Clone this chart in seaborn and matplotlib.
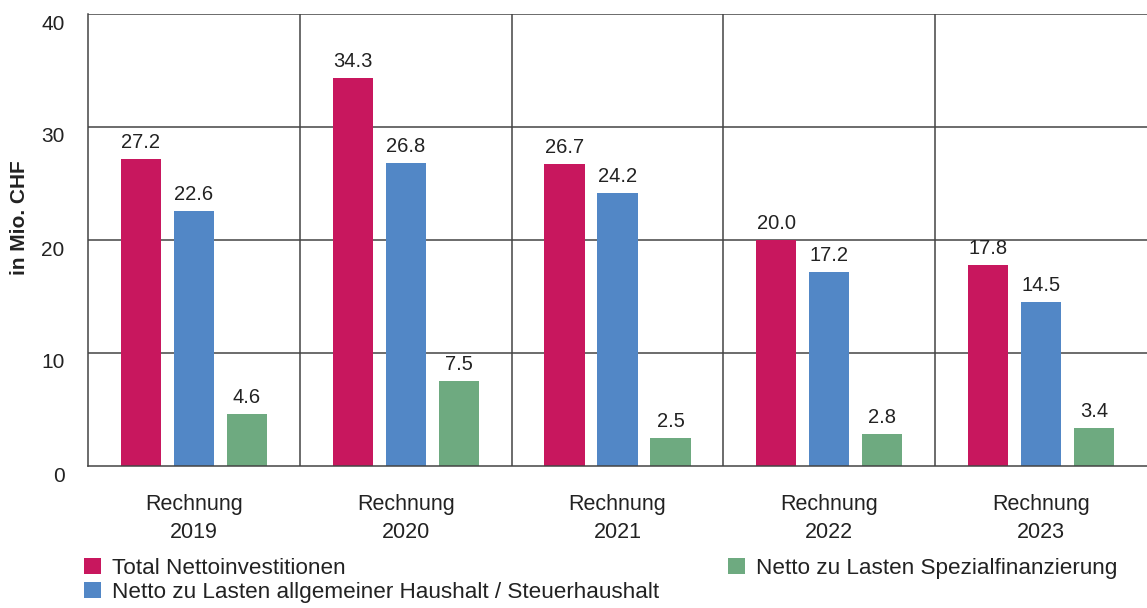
import pandas as pd
import numpy as np
import matplotlib.pyplot as plt
import matplotlib.transforms as mtransforms
from matplotlib.patches import Patch
import seaborn as sns

years = ['2019', '2020', '2021', '2022', '2023']
categories = ['Rechnung\n' + y for y in years]
series_names = ['Total Nettoinvestitionen',
                'Netto zu Lasten allgemeiner Haushalt / Steuerhaushalt',
                'Netto zu Lasten Spezialfinanzierung']
total = [27.2, 34.3, 26.7, 20.0, 17.8]
allgemein = [22.6, 26.8, 24.2, 17.2, 14.5]
spezial = [4.6, 7.5, 2.5, 2.8, 3.4]
colors = ['#C8175E', '#5287C6', '#6EAA80']

df = pd.DataFrame({
    'cat': categories * 3,
    'serie': np.repeat(series_names, len(categories)),
    'wert': total + allgemein + spezial,
})

sns.set_style('white')
plt.rcParams['font.family'] = ['Liberation Sans', 'DejaVu Sans']
plt.rcParams['text.color'] = '#222222'

fig = plt.figure(figsize=(11.47, 6.08), dpi=100)
ax = fig.add_axes([88 / 1147, 1 - 466 / 608, 1 - 88 / 1147, (466 - 14) / 608])

sns.barplot(data=df, x='cat', y='wert', hue='serie', palette=colors,
            width=0.75, gap=0.24, legend=False, ax=ax, saturation=1,
            linewidth=0, edgecolor='none', zorder=3)

for cont in ax.containers:
    ax.bar_label(cont, fmt='%.1f', padding=5, fontsize=14.5, color='#222222')

ax.set_xlim(-0.5, 4.5)
ax.set_ylim(0, 40)
ax.set_yticks([0, 10, 20, 30, 40])
ax.set_xlabel('')
ax.set_ylabel('')

line_c = '#444444'
for y in [10, 20, 30, 40]:
    ax.axhline(y, color=line_c, lw=1.1, zorder=1)
for x in [0.5, 1.5, 2.5, 3.5]:
    ax.axvline(x, color=line_c, lw=1.1, zorder=1)

for s in ['top', 'right']:
    ax.spines[s].set_visible(False)
for s in ['left', 'bottom']:
    ax.spines[s].set_color(line_c)
    ax.spines[s].set_linewidth(1.1)
    ax.spines[s].set_zorder(4)

ax.tick_params(axis='y', length=0, pad=17, labelsize=15, labelcolor='#222222')
ax.tick_params(axis='x', length=0, pad=20, labelsize=15.5, labelcolor='#222222')
for lbl in ax.get_xticklabels():
    lbl.set_linespacing(1.45)
off = mtransforms.ScaledTranslation(0, -8 / 100, fig.dpi_scale_trans)
for lbl in ax.get_yticklabels():
    lbl.set_transform(lbl.get_transform() + off)

fig.text(20 / 1147, 1 - 218 / 608, 'in Mio. CHF', rotation=90, fontsize=15,
         fontweight='bold', ha='center', va='center', color='#222222')

handles = [Patch(facecolor=c, edgecolor='none') for c in colors]
leg_kw = dict(loc='upper left', frameon=False, fontsize=16.2,
              handlelength=0.75, handleheight=0.75, handletextpad=0.5,
              labelspacing=0.12, borderaxespad=0, borderpad=0)
fig.legend(handles[:2], series_names[:2],
           bbox_to_anchor=(84 / 1147, 1 - 558 / 608), **leg_kw)
fig.legend(handles[2:], series_names[2:],
           bbox_to_anchor=(728 / 1147, 1 - 558 / 608), **leg_kw)

fig.savefig('out.png', dpi=100)
